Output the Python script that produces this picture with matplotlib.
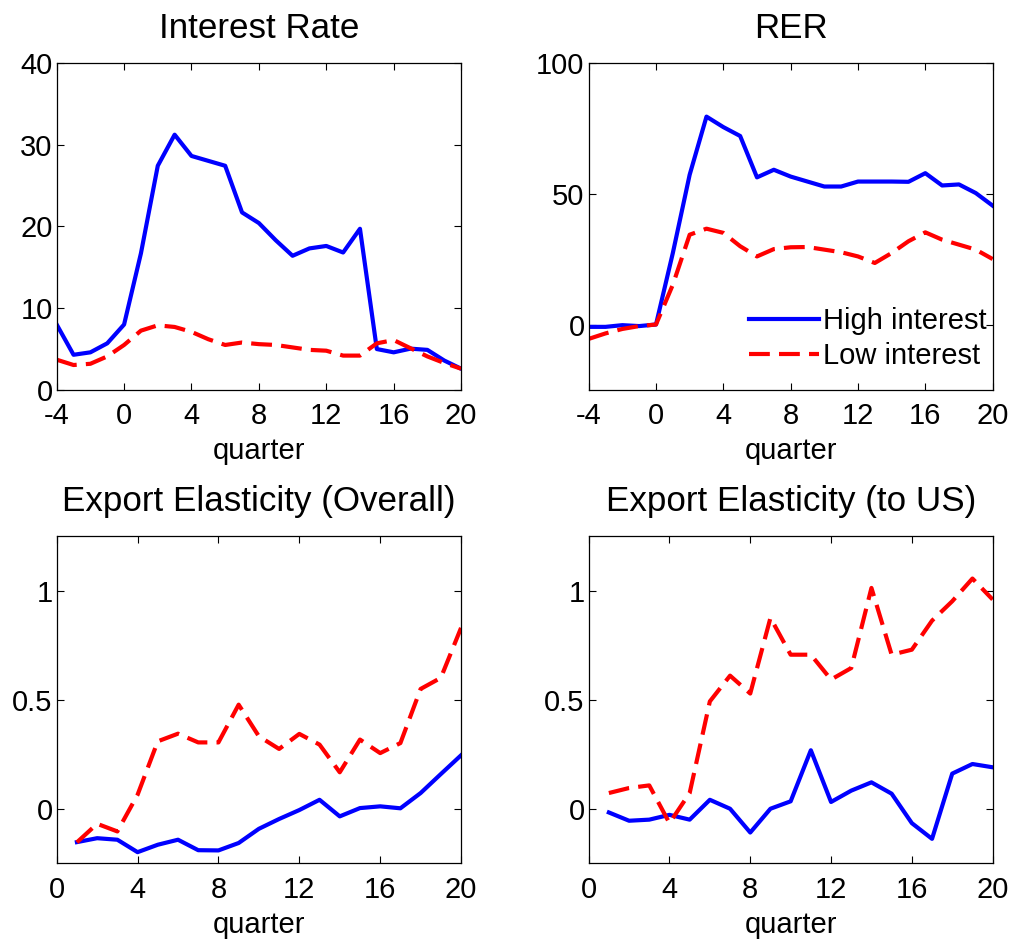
import matplotlib
matplotlib.use("Agg")
import matplotlib.pyplot as plt
import numpy as np

plt.rcParams["font.family"] = ["Liberation Sans", "DejaVu Sans"]
plt.rcParams["font.size"] = 21
plt.rcParams["axes.unicode_minus"] = False

# quarters
q_top = np.arange(-4, 21)
q_bot = np.arange(1, 21)

# Interest rate
rate_high = [8.0, 4.3, 4.6, 5.7, 8.0, 16.7, 27.4, 31.2, 28.6, 28.0, 27.4, 21.7, 20.4,
             18.3, 16.4, 17.3, 17.6, 16.8, 19.7, 5.0, 4.6, 5.05, 4.9, 3.6, 2.6]
rate_low = [3.7, 3.05, 3.2, 4.1, 5.5, 7.25, 7.9, 7.7, 7.1, 6.2, 5.5, 5.8, 5.6,
            5.5, 5.2, 4.9, 4.8, 4.2, 4.2, 5.7, 6.1, 5.1, 4.1, 3.3, 2.6]

# Real exchange rate
rer_high = [-0.9, -0.9, -0.25, -0.6, 0.0, 27.3, 57.2, 79.4, 75.4, 72.0, 56.2, 59.1, 56.5,
            54.6, 52.7, 52.7, 54.6, 54.6, 54.6, 54.5, 57.8, 53.1, 53.5, 50.2, 45.4]
rer_low = [-5.5, -3.4, -1.7, -0.6, 0.0, 15.2, 34.3, 36.6, 35.0, 29.9, 26.0, 28.8, 29.5,
           29.6, 28.6, 27.6, 26.0, 23.5, 27.3, 31.8, 35.2, 32.4, 30.5, 28.6, 25.0]

# Export elasticity, overall
overall_high = [-0.153, -0.135, -0.142, -0.199, -0.165, -0.142, -0.19, -0.191, -0.157, -0.092,
                -0.047, -0.006, 0.041, -0.035, 0.003, 0.011, 0.002, 0.072, 0.159, 0.245]
overall_low = [-0.154, -0.069, -0.104, 0.064, 0.309, 0.344, 0.304, 0.304, 0.477, 0.332,
               0.274, 0.343, 0.294, 0.167, 0.317, 0.255, 0.301, 0.549, 0.6, 0.829]

# Export elasticity, to US
us_high = [-0.017, -0.055, -0.05, -0.028, -0.05, 0.041, 0.0, -0.109, 0.0, 0.034,
           0.268, 0.031, 0.083, 0.121, 0.069, -0.066, -0.138, 0.161, 0.205, 0.19]
us_low = [0.072, 0.095, 0.107, -0.066, 0.072, 0.492, 0.61, 0.528, 0.875, 0.706,
          0.706, 0.592, 0.645, 1.012, 0.706, 0.729, 0.862, 0.951, 1.055, 0.959]

panels = [
    ("Interest Rate", q_top, rate_high, rate_low, (-4, 20), (0, 40), [0, 10, 20, 30, 40]),
    ("RER", q_top, rer_high, rer_low, (-4, 20), (-25, 100), [0, 50, 100]),
    ("Export Elasticity (Overall)", q_bot, overall_high, overall_low, (0, 20), (-0.25, 1.25), [0, 0.5, 1]),
    ("Export Elasticity (to US)", q_bot, us_high, us_low, (0, 20), (-0.25, 1.25), [0, 0.5, 1]),
]

boxes = [
    [0.0558, 0.5869, 0.398, 0.3467],
    [0.5794, 0.5869, 0.3976, 0.3467],
    [0.0558, 0.0855, 0.398, 0.3467],
    [0.5794, 0.0855, 0.3976, 0.3467],
]

fig = plt.figure(figsize=(10.16, 9.44), dpi=100)

for i, (title, x, hi, lo, xlim, ylim, yticks) in enumerate(panels):
    ax = fig.add_axes(boxes[i])
    ax.plot(x, hi, color="#0000ff", lw=3, label="High interest")
    ax.plot(x, lo, color="#ff0000", lw=3, dashes=(5, 2.2), label="Low interest")
    ax.set_xlim(*xlim)
    ax.set_ylim(*ylim)
    ax.set_xticks(np.arange(xlim[0], xlim[1] + 1, 4))
    ax.set_yticks(yticks)
    ax.set_yticklabels([f"{t:g}" for t in yticks])
    ax.tick_params(direction="in", top=True, right=True, length=5, width=0.8)
    ax.tick_params(axis="x", pad=9)
    ax.tick_params(axis="y", pad=3)
    for s in ax.spines.values():
        s.set_linewidth(0.9)
    ax.set_title(title, pad=18)
    ax.set_xlabel("quarter", labelpad=5)
    if i == 1:
        ax.legend(loc="lower right", bbox_to_anchor=(0.985, 0.06), frameon=False,
                  handlelength=2.4, handletextpad=0.15, labelspacing=0.25,
                  borderpad=0, borderaxespad=0)

fig.savefig("out.png", dpi=100)
